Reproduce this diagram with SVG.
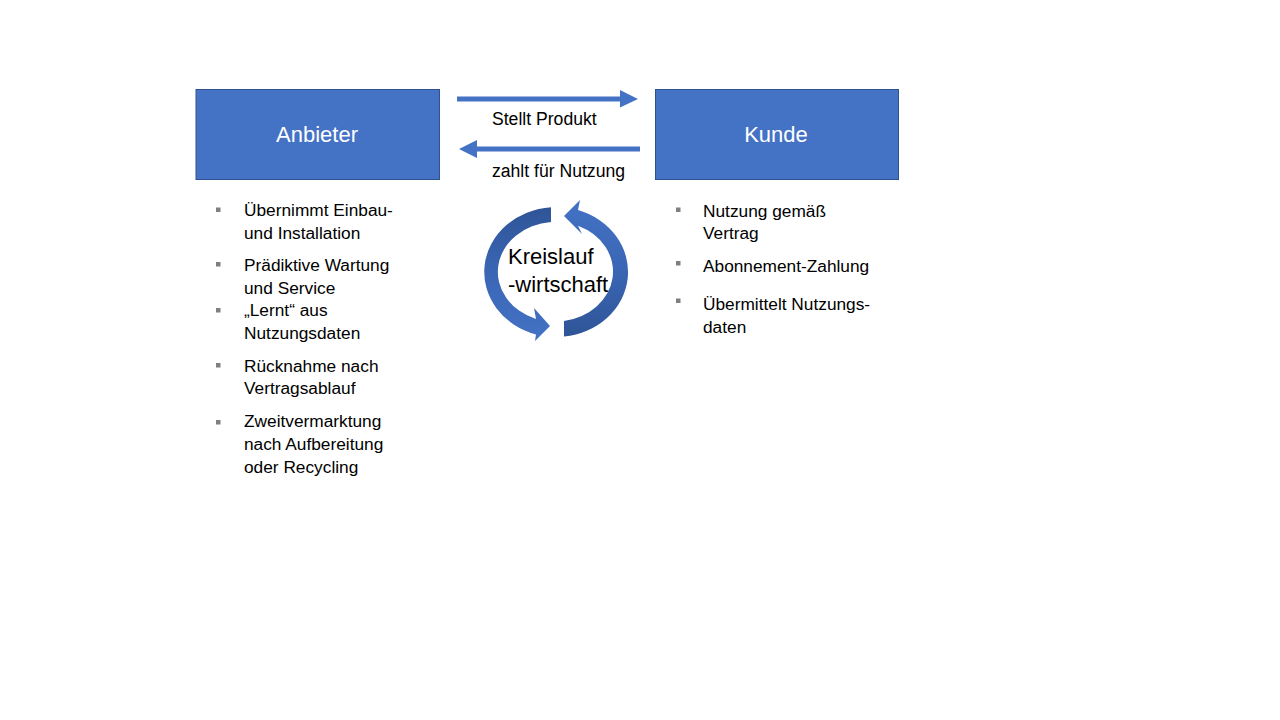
<svg xmlns="http://www.w3.org/2000/svg" width="1280" height="720" viewBox="0 0 1280 720">
<style>
.box{fill:#4472C4;stroke:#2F528F;stroke-width:1}
.boxtxt{font-family:"Liberation Sans",Arial,sans-serif;font-size:22px;fill:#FFFFFF;text-anchor:middle}
.lbl{font-family:"Liberation Sans",Arial,sans-serif;font-size:17.6px;fill:#000000}
.li{font-family:"Liberation Sans",Arial,sans-serif;font-size:17.3px;fill:#000000}
.big{font-family:"Liberation Sans",Arial,sans-serif;font-size:22px;fill:#000000}
.bul{fill:#7F7F7F}
.conn{fill:#4472C4}
</style>
<defs>
<linearGradient id="gL" x1="0" y1="0" x2="0" y2="1">
<stop offset="0" stop-color="#2F5597"/>
<stop offset="0.5" stop-color="#3A66B5"/>
<stop offset="1" stop-color="#4472C4"/>
</linearGradient>
<linearGradient id="gR" x1="0" y1="1" x2="0" y2="0">
<stop offset="0" stop-color="#2F5597"/>
<stop offset="0.5" stop-color="#3A66B5"/>
<stop offset="1" stop-color="#4472C4"/>
</linearGradient>
</defs>
<rect width="1280" height="720" fill="#FFFFFF"/>

<g id="anbieter">
<rect class="box" x="196" y="89.5" width="243.5" height="90"/>
<text class="boxtxt" x="317" y="142">Anbieter</text>
</g>

<g id="kunde">
<rect class="box" x="655.5" y="89.5" width="243" height="90"/>
<text class="boxtxt" x="776" y="142">Kunde</text>
</g>

<g id="connectors">
<path class="conn" d="M457 96.5 L620 96.5 L620 90 L638 99 L620 107.5 L620 101.5 L457 101.5 Z"/>
<path class="conn" d="M640 146.5 L477 146.5 L477 140 L459 149 L477 158 L477 151.5 L640 151.5 Z"/>
<text class="lbl" x="492" y="125">Stellt Produkt</text>
<text class="lbl" x="492" y="177">zahlt für Nutzung</text>
</g>

<g id="kreislauf">
<path fill="url(#gL)" d="M551 207.2 A72 65 0 0 0 536 334.4 L535 341 L550 326 L534 308 L536 318.9 A58 50 0 0 1 551 222.1 Z"/>
<path fill="url(#gR)" d="M564 336.6 A72 65 0 0 0 578 210.1 L580 200 L564 216 L582 234 L578 225.7 A58 50 0 0 1 564 321 Z"/>
<text class="big" x="508" y="264">Kreislauf</text>
<text class="big" x="508" y="292">-wirtschaft</text>
</g>

<g id="anbieter-liste">
<rect class="bul" x="216" y="207.5" width="4.5" height="4.5"/>
<text class="li" x="244" y="216">Übernimmt Einbau-</text>
<text class="li" x="244" y="238.5">und Installation</text>
<rect class="bul" x="216" y="262" width="4.5" height="4.5"/>
<text class="li" x="244" y="271">Prädiktive Wartung</text>
<text class="li" x="244" y="293.5">und Service</text>
<rect class="bul" x="216" y="308" width="4.5" height="4.5"/>
<text class="li" x="244" y="316">„Lernt“ aus</text>
<text class="li" x="244" y="338.5">Nutzungsdaten</text>
<rect class="bul" x="216" y="363" width="4.5" height="4.5"/>
<text class="li" x="244" y="371.5">Rücknahme nach</text>
<text class="li" x="244" y="394">Vertragsablauf</text>
<rect class="bul" x="216" y="420" width="4.5" height="4.5"/>
<text class="li" x="244" y="427">Zweitvermarktung</text>
<text class="li" x="244" y="449.5">nach Aufbereitung</text>
<text class="li" x="244" y="472.5">oder Recycling</text>
</g>

<g id="kunde-liste">
<rect class="bul" x="676" y="207.5" width="4.5" height="4.5"/>
<text class="li" x="703" y="216.5">Nutzung gemäß</text>
<text class="li" x="703" y="239">Vertrag</text>
<rect class="bul" x="676" y="261" width="4.5" height="4.5"/>
<text class="li" x="703" y="271.5">Abonnement-Zahlung</text>
<rect class="bul" x="676" y="298.5" width="4.5" height="4.5"/>
<text class="li" x="703" y="310">Übermittelt Nutzungs-</text>
<text class="li" x="703" y="332.5">daten</text>
</g>
</svg>
